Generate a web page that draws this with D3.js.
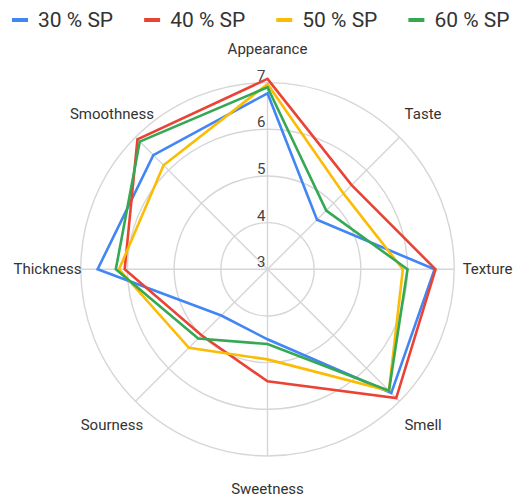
<!DOCTYPE html>
<html>
<head>
<meta charset="utf-8">
<script src="https://cdn.jsdelivr.net/npm/d3@7"></script>
<style>
  html, body { margin: 0; padding: 0; background: #fff; }
  svg { display: block; font-family: Roboto, "Noto Sans", Arial, sans-serif; }
</style>
</head>
<body>
<svg id="chart" width="514" height="497"></svg>
<script>
// ---- data ----
const axes = ["Appearance", "Taste", "Texture", "Smell", "Sweetness", "Sourness", "Thickness", "Smoothness"];
const seriesNames = ["30 % SP", "40 % SP", "50 % SP", "60 % SP"];
const sp30 = [6.77, 4.50, 6.58, 6.75, 4.50, 4.40, 6.64, 6.46];
const sp40 = [7.08, 5.55, 6.60, 6.90, 5.40, 5.00, 6.06, 6.94];
const sp50 = [6.97, 5.30, 5.90, 6.68, 4.93, 5.38, 6.18, 6.15];
const sp60 = [6.90, 4.78, 6.00, 6.68, 4.60, 5.10, 6.25, 6.87];
const ticks = [3, 4, 5, 6, 7];
const colors = ["#4285F4", "#EA4335", "#FBBC04", "#34A853"];

const seriesValues = [sp30, sp40, sp50, sp60];

const svg = d3.select("#chart");
const cx = 267.5, cy = 269.3;
const rOuter = 186.7;

const r = d3.scaleLinear().domain([3, 7]).range([0, rOuter]);
const angle = d3.scalePoint().domain(axes.concat(["__end"])).range([0, 2 * Math.PI]);

const g = svg.append("g").attr("transform", `translate(${cx},${cy})`);

// grid circles
g.selectAll("circle.grid").data(ticks.slice(1)).enter().append("circle")
  .attr("class", "grid")
  .attr("r", d => r(d))
  .attr("fill", "none")
  .attr("stroke", "#d6d6d6")
  .attr("stroke-width", 1.4);

// spokes
g.selectAll("line.spoke").data(axes).enter().append("line")
  .attr("x1", 0).attr("y1", 0)
  .attr("x2", d => rOuter * Math.sin(angle(d)))
  .attr("y2", d => -rOuter * Math.cos(angle(d)))
  .attr("stroke", "#d6d6d6")
  .attr("stroke-width", 1.4);

// tick labels
g.selectAll("text.tick").data(ticks).enter().append("text")
  .attr("x", -2)
  .attr("y", d => -r(d) - 2)
  .attr("text-anchor", "end")
  .attr("font-size", 15)
  .attr("fill", "#444")
  .text(d => d);

// series
const line = d3.lineRadial()
  .angle((d, i) => angle(axes[i]))
  .radius(d => r(d))
  .curve(d3.curveLinearClosed);

g.selectAll("path.series").data(seriesValues).enter().append("path")
  .attr("d", d => line(d))
  .attr("fill", "none")
  .attr("stroke", (d, i) => colors[i])
  .attr("stroke-width", 2.6)
  .attr("stroke-linejoin", "miter");

// axis labels
const labelR = 220;
g.selectAll("text.axislabel").data(axes).enter().append("text")
  .attr("x", d => labelR * Math.sin(angle(d)))
  .attr("y", d => -labelR * Math.cos(angle(d)))
  .attr("dy", "0.33em")
  .attr("text-anchor", "middle")
  .attr("font-size", 15)
  .attr("fill", "#333")
  .text(d => d);

// legend
const legend = svg.append("g").attr("transform", "translate(12,20)");
let lx = 0;
seriesNames.forEach((name, i) => {
  const item = legend.append("g").attr("transform", `translate(${lx},0)`);
  item.append("line").attr("x1", 0).attr("x2", 16).attr("y1", 0).attr("y2", 0)
    .attr("stroke", colors[i]).attr("stroke-width", 4);
  const t = item.append("text").attr("x", 26).attr("y", 7)
    .attr("font-size", 21).attr("fill", "#333").text(name);
  const w = t.node().getComputedTextLength();
  lx += 26 + w + 31;
});
</script>
</body>
</html>
